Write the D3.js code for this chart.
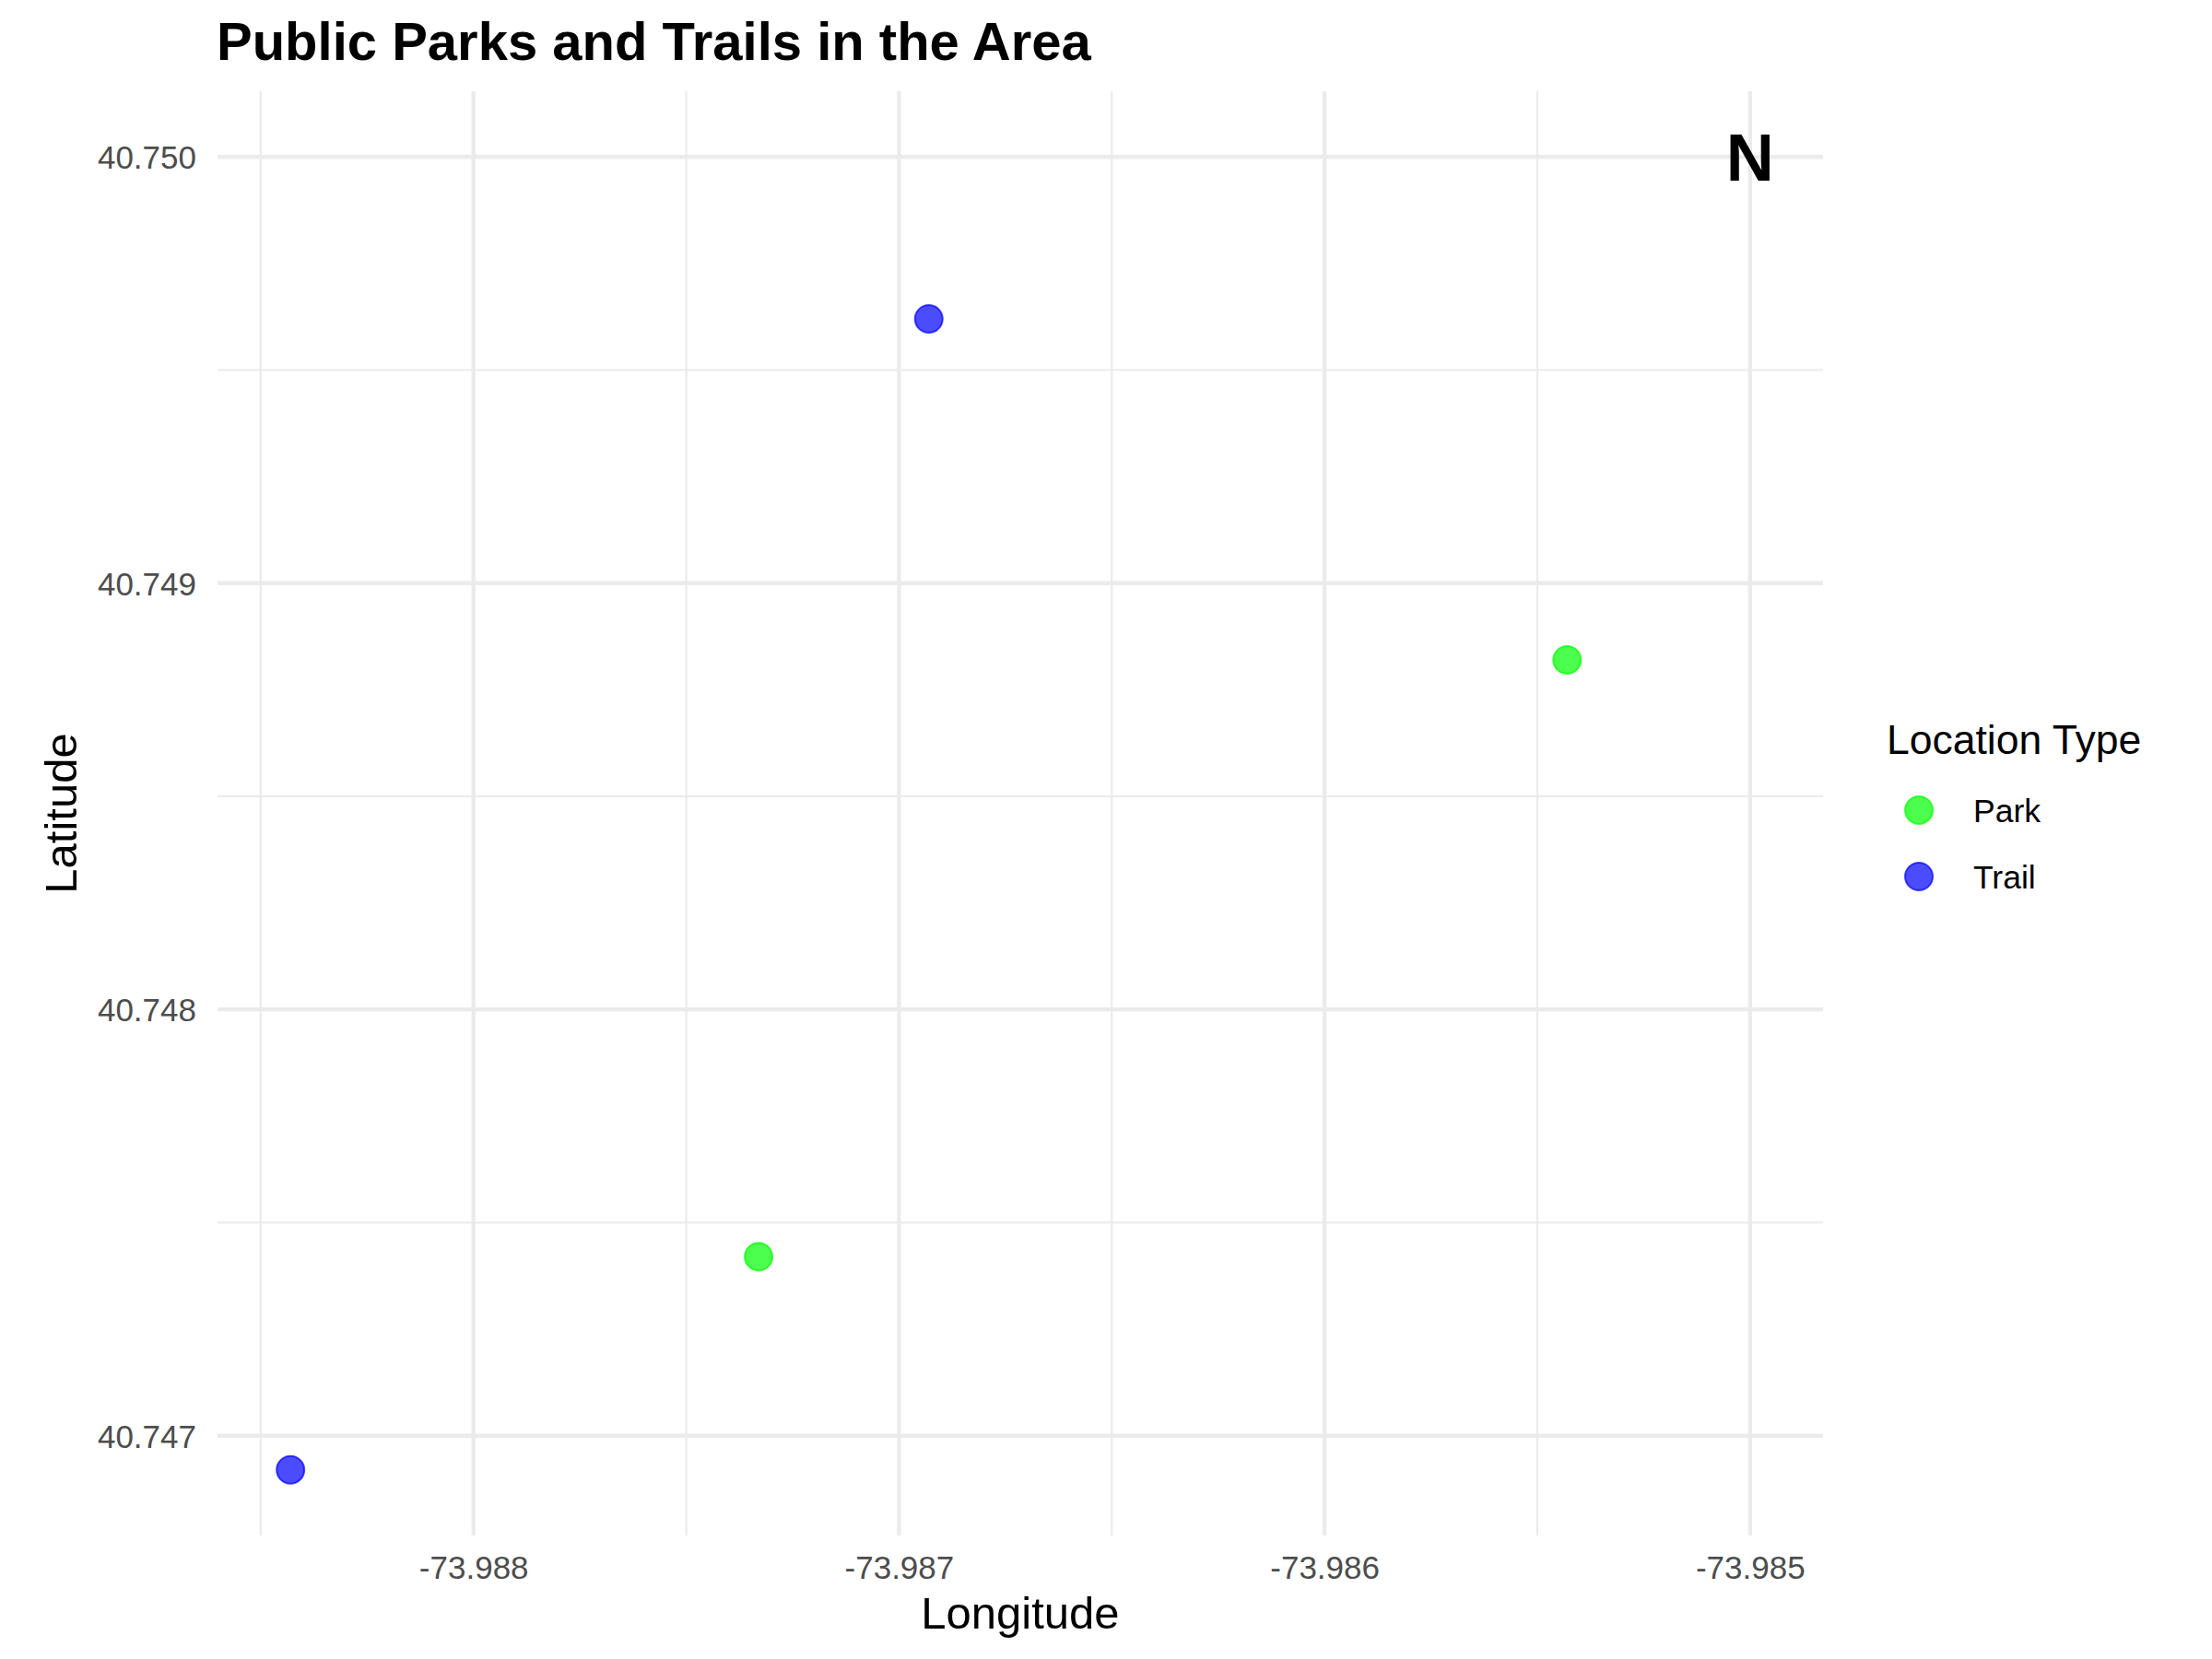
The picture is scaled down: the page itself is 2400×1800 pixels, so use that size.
<!DOCTYPE html>
<html>
<head>
<meta charset="utf-8">
<script src="https://cdn.jsdelivr.net/npm/d3@7"></script>
<style>
  html, body { margin: 0; padding: 0; background: #ffffff; }
  svg { display: block; font-family: "Liberation Sans", Arial, Helvetica, sans-serif; }
</style>
</head>
<body>
<svg id="chart" width="2400" height="1800"></svg>
<script>
// ---- data ----
const names = ["Trail A", "Park A", "Trail B", "Park B"];
const types = ["Trail", "Park", "Trail", "Park"];
const longitudes = [-73.98843, -73.98733, -73.98693, -73.98543];
const latitudes = [40.74692, 40.74742, 40.74962, 40.74882];
const legendTypes = ["Park", "Trail"];
const typeColors = ["#00ff00", "#0000ff"];
const xTicks = [-73.988, -73.987, -73.986, -73.985];
const yTicks = [40.747, 40.748, 40.749, 40.750];
const xMinor = [-73.9885, -73.9875, -73.9865, -73.9855];
const yMinor = [40.7475, 40.7485, 40.7495];
const northLabel = { text: "N", lon: -73.985, lat: 40.750 };

const points = names.map((n, i) => ({ name: n, type: types[i], lon: longitudes[i], lat: latitudes[i] }));

// ---- layout ----
const panel = { left: 236, right: 1978, top: 99, bottom: 1666 };
const svg = d3.select("#chart");

function expand(ext) {
  const pad = (ext[1] - ext[0]) * 0.05;
  return [ext[0] - pad, ext[1] + pad];
}
const xExt = d3.extent(longitudes.concat([northLabel.lon]));
const yExt = d3.extent(latitudes.concat([northLabel.lat]));

const x = d3.scaleLinear().domain(expand(xExt)).range([panel.left, panel.right]);
const y = d3.scaleLinear().domain(expand(yExt)).range([panel.bottom, panel.top]);
const color = d3.scaleOrdinal().domain(legendTypes).range(typeColors);
const fmt = d3.formatLocale({ decimal: ".", thousands: ",", grouping: [3], currency: ["$", ""], minus: "-" }).format(".3f");

const grid = svg.append("g");
// minor grid
grid.selectAll("line.vminor").data(xMinor).enter().append("line")
  .attr("x1", d => x(d)).attr("x2", d => x(d))
  .attr("y1", panel.top).attr("y2", panel.bottom)
  .attr("stroke", "#ebebeb").attr("stroke-width", 2.2);
grid.selectAll("line.hminor").data(yMinor).enter().append("line")
  .attr("y1", d => y(d)).attr("y2", d => y(d))
  .attr("x1", panel.left).attr("x2", panel.right)
  .attr("stroke", "#ebebeb").attr("stroke-width", 2.2);
// major grid
grid.selectAll("line.vmajor").data(xTicks).enter().append("line")
  .attr("x1", d => x(d)).attr("x2", d => x(d))
  .attr("y1", panel.top).attr("y2", panel.bottom)
  .attr("stroke", "#ebebeb").attr("stroke-width", 4.3);
grid.selectAll("line.hmajor").data(yTicks).enter().append("line")
  .attr("y1", d => y(d)).attr("y2", d => y(d))
  .attr("x1", panel.left).attr("x2", panel.right)
  .attr("stroke", "#ebebeb").attr("stroke-width", 4.3);

// axes (labels only, ggplot minimal style)
const xAxis = d3.axisBottom(x).tickValues(xTicks).tickFormat(fmt).tickSize(0).tickPadding(0);
const gx = svg.append("g").attr("transform", `translate(0,${panel.bottom})`).call(xAxis);
gx.select(".domain").remove();
gx.selectAll("text").attr("font-size", 35).attr("fill", "#4d4d4d")
  .attr("font-family", "'Liberation Sans', Arial, sans-serif")
  .attr("dy", null).attr("y", 47);

const yAxis = d3.axisLeft(y).tickValues(yTicks).tickFormat(fmt).tickSize(0).tickPadding(0);
const gy = svg.append("g").attr("transform", `translate(${panel.left},0)`).call(yAxis);
gy.select(".domain").remove();
gy.selectAll("text").attr("font-size", 35).attr("fill", "#4d4d4d")
  .attr("font-family", "'Liberation Sans', Arial, sans-serif")
  .attr("x", -23).attr("dy", "0.36em");

// points
svg.append("g").selectAll("circle").data(points).enter().append("circle")
  .attr("cx", d => x(d.lon)).attr("cy", d => y(d.lat)).attr("r", 15)
  .attr("fill", d => color(d.type)).attr("fill-opacity", 0.7)
  .attr("stroke", d => color(d.type)).attr("stroke-opacity", 0.7).attr("stroke-width", 2);

// north label
svg.append("text").attr("x", x(northLabel.lon)).attr("y", y(northLabel.lat))
  .attr("dy", "0.36em").attr("text-anchor", "middle")
  .attr("font-size", 72).attr("font-weight", "bold").attr("fill", "#000")
  .text(northLabel.text);

// title
svg.append("text").attr("x", 235).attr("y", 65)
  .attr("font-size", 58).attr("font-weight", "bold").attr("fill", "#000")
  .text("Public Parks and Trails in the Area");

// axis titles
svg.append("text").attr("x", (panel.left + panel.right) / 2).attr("y", 1767)
  .attr("text-anchor", "middle").attr("font-size", 49).attr("fill", "#000")
  .text("Longitude");
svg.append("text").attr("transform", `translate(83,${(panel.top + panel.bottom) / 2}) rotate(-90)`)
  .attr("text-anchor", "middle").attr("font-size", 49).attr("fill", "#000")
  .text("Latitude");

// legend
const lg = svg.append("g");
lg.append("text").attr("x", 2047).attr("y", 818).attr("font-size", 44.5).attr("fill", "#000")
  .text("Location Type");
const items = lg.selectAll("g.item").data(legendTypes).enter().append("g")
  .attr("transform", (d, i) => `translate(0,${879 + i * 72})`);
items.append("circle").attr("cx", 2082).attr("cy", 0).attr("r", 15)
  .attr("fill", d => color(d)).attr("fill-opacity", 0.7)
  .attr("stroke", d => color(d)).attr("stroke-opacity", 0.7).attr("stroke-width", 2);
items.append("text").attr("x", 2141).attr("y", 13).attr("font-size", 35.5).attr("fill", "#000")
  .text(d => d);
</script>
</body>
</html>
